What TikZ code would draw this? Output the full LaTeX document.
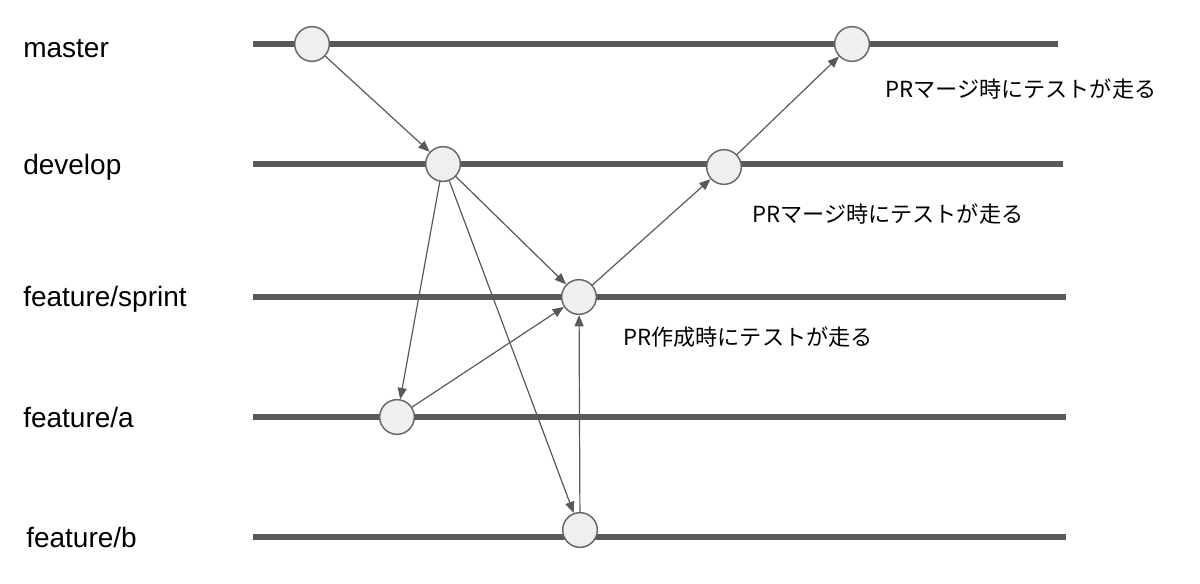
\documentclass[tikz,border=0pt]{standalone}
\usepackage{fontspec}
\setmainfont{Liberation Sans}
\newfontfamily\jpfont{Noto Sans CJK JP}
\usetikzlibrary{arrows.meta}
\definecolor{branchgray}{HTML}{595959}
\definecolor{commitfill}{HTML}{EFEFEF}
\definecolor{commitline}{HTML}{666666}
\tikzset{commit/.style={circle,draw=commitline,fill=commitfill,line width=1.1pt,minimum size=26pt,inner sep=0pt},
  merge/.style={-{Triangle[length=8.5pt,width=6.8pt]},draw=branchgray,line width=.9pt},
  branchname/.style={anchor=base west,inner sep=0pt,font=\fontsize{21}{24}\selectfont},
  note/.style={anchor=base west,inner sep=0pt,font=\jpfont\fontsize{16.6}{20}\selectfont}}
\begin{document}
\begin{tikzpicture}[x=.75pt,y=-.75pt]
\useasboundingbox (0,0) rectangle (1200,583);
% branches
\foreach \y/\e in {44/1058,164/1063,297/1066,417/1066,537/1066}{\draw[branchgray,line width=4pt] (253,\y)--(\e,\y);}
\node[branchname] (lmaster) at (23,57){master};\node[branchname] (ldevelop) at (23,174){develop};\node[branchname] (lsprint) at (23,306){feature/sprint};\node[branchname] (la) at (23,427){feature/a};\node[branchname] (lb) at (26,547){feature/b};
% commits
\node[commit] (m1) at (312,44){};\node[commit] (m2) at (852,44){};
\node[commit] (d1) at (443,164){};\node[commit] (d2) at (724,167){};
\node[commit] (s1) at (579,297){};\node[commit] (a1) at (397,417){};\node[commit] (b1) at (580,530){};
% merges
\draw[merge] (m1)--(d1);\draw[merge] (d1)--(a1);\draw[merge] (d1)--(s1);\draw[merge] (d1)--(b1);
\draw[merge] (a1)--(s1);\draw[merge] (b1)--(s1);\draw[merge] (s1)--(d2);\draw[merge] (d2)--(m2);
\node[note] (n1) at (885,97){PRマージ時にテストが走る};
\node[note] (n2) at (752,222){PRマージ時にテストが走る};
\node[note] (n3) at (623,345){PR作成時にテストが走る};
\end{tikzpicture}
\end{document}
